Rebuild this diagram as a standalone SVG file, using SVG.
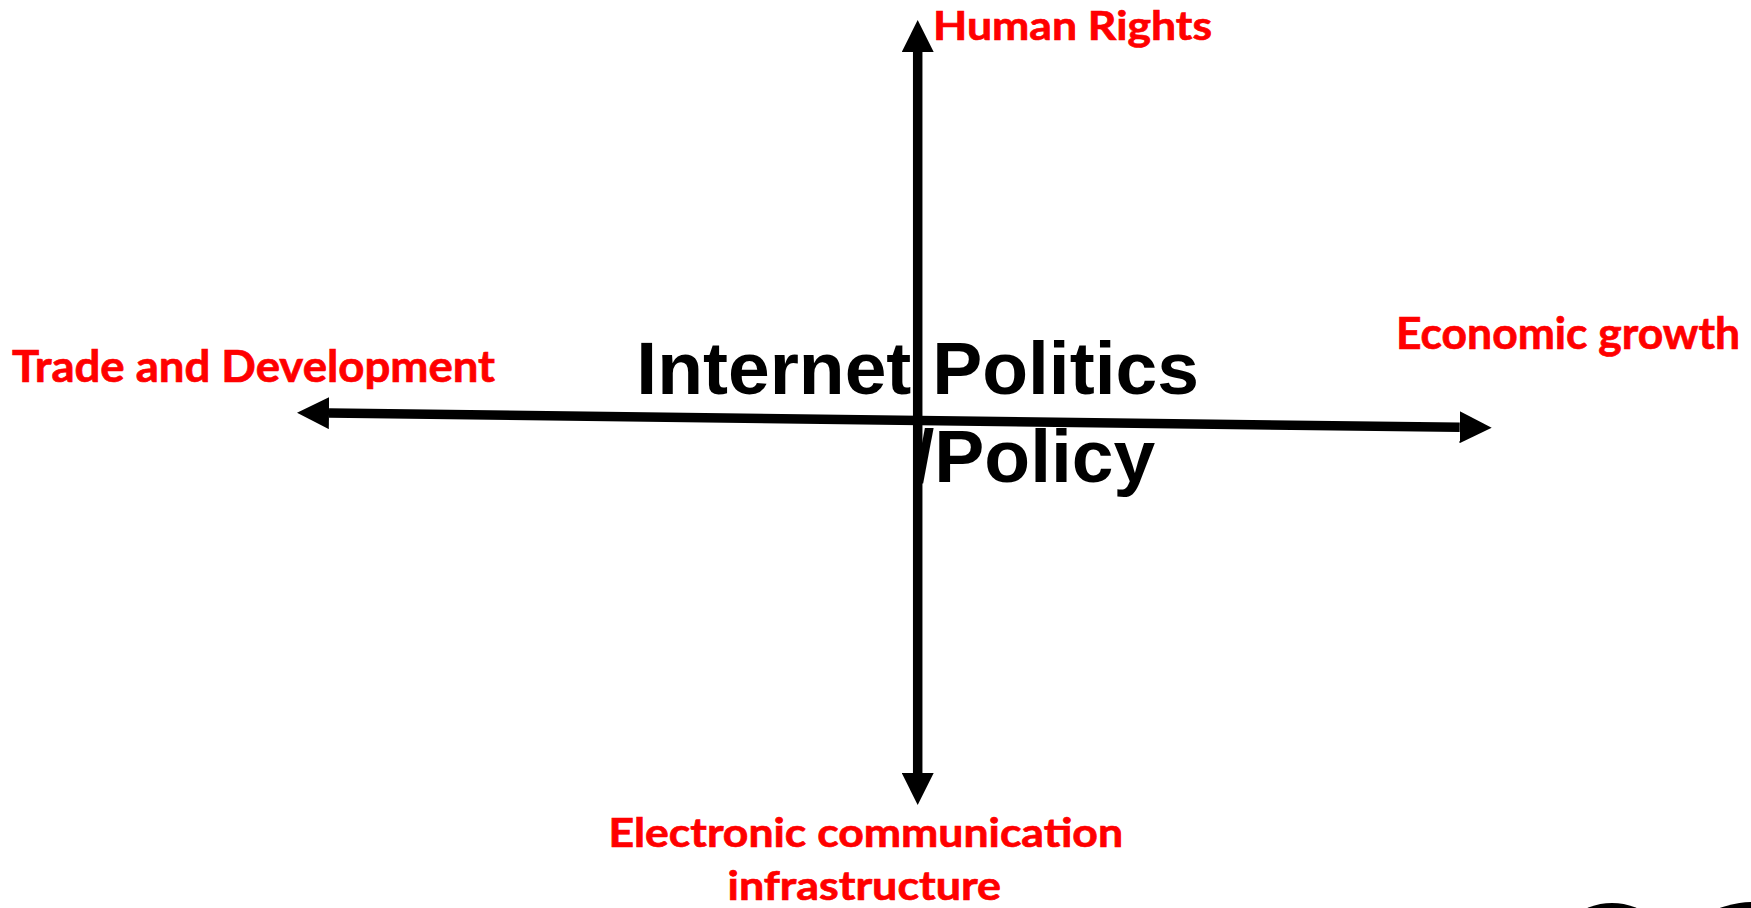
<svg xmlns="http://www.w3.org/2000/svg" width="1751" height="908" viewBox="0 0 1751 908">
  <style>
    .lbl { font-family: Lato, "Open Sans", "Liberation Sans", sans-serif; font-weight: 700; fill: #FF0000; stroke: #FF0000; stroke-width: 0.7; }
    .title { font-family: "Liberation Sans", Arial, sans-serif; font-weight: 700; font-size: 75px; fill: #000000; }
    .axis { stroke: #000000; stroke-width: 9.5; fill: none; stroke-linecap: butt; }
  </style>
  <defs>
    <marker id="head" markerUnits="userSpaceOnUse" markerWidth="32" markerHeight="32" refX="0" refY="16" orient="auto-start-reverse" viewBox="0 0 32 32">
      <path d="M0,0 L32,16 L0,32 Z" fill="#000000"/>
    </marker>
  </defs>
  <rect width="1751" height="908" fill="#FFFFFF"/>

  <g id="connectors">
    <line class="axis" x1="917.7" y1="52" x2="917.7" y2="773" marker-start="url(#head)" marker-end="url(#head)"/>
    <line class="axis" x1="329" y1="413.1" x2="1459.7" y2="427.3" marker-start="url(#head)" marker-end="url(#head)"/>
  </g>

  <g id="center-title">
    <text class="title" x="636.3" y="394">Internet Politics</text>
    <text class="title" x="913.5" y="481.7">/Policy</text>
  </g>

  <g id="human-rights">
    <text class="lbl" x="933" y="39.5" font-size="41" textLength="279" lengthAdjust="spacingAndGlyphs">Human Rights</text>
  </g>

  <g id="trade-development">
    <text class="lbl" x="12" y="381.7" font-size="43" textLength="483" lengthAdjust="spacingAndGlyphs">Trade and Development</text>
  </g>

  <g id="economic-growth">
    <text class="lbl" x="1396" y="349" font-size="43" textLength="344" lengthAdjust="spacingAndGlyphs">Economic growth</text>
  </g>

  <g id="electronic-infrastructure">
    <text class="lbl" x="608.5" y="846.7" font-size="40" textLength="514.5" lengthAdjust="spacingAndGlyphs">Electronic communication</text>
    <text class="lbl" x="727.5" y="900" font-size="40" textLength="273.5" lengthAdjust="spacingAndGlyphs">infrastructure</text>
  </g>

  <g id="corner-shapes">
    <ellipse cx="1612" cy="960" rx="60" ry="57" fill="#000000"/>
    <ellipse cx="1755" cy="960" rx="80" ry="58" fill="#000000"/>
  </g>
</svg>
